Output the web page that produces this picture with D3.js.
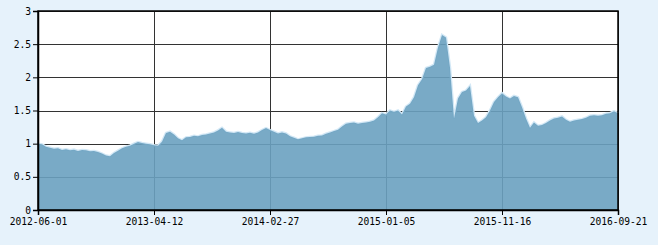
<!DOCTYPE html>
<html>
<head>
<meta charset="utf-8">
<script src="https://cdn.jsdelivr.net/npm/d3@7"></script>
<style>
  body { margin: 0; background: #e6f2fb; }
  .tick text { font-family: "DejaVu Sans Mono", monospace; font-size: 9.6px; fill: #000; }
</style>
</head>
<body>
<div id="chart"></div>
<script>
// tick labels and values (evenly spaced trading days)
var yTicks = [0, 0.5, 1, 1.5, 2, 2.5, 3];
var dateLabels = ["2012-06-01", "2013-04-12", "2014-02-27", "2015-01-05", "2015-11-16", "2016-09-21"];
var values = [
  1.00, 0.99, 0.955, 0.94, 0.925, 0.93, 0.905, 0.915, 0.90, 0.91,
  0.89, 0.905, 0.90, 0.885, 0.89, 0.875, 0.85, 0.82, 0.81, 0.86,
  0.895, 0.93, 0.955, 0.97, 1.00, 1.025, 1.01, 1.00, 0.99, 0.975,
  0.97, 1.03, 1.16, 1.18, 1.14, 1.08, 1.05, 1.095, 1.10, 1.12,
  1.11, 1.13, 1.14, 1.155, 1.17, 1.20, 1.24, 1.18, 1.17, 1.16,
  1.175, 1.16, 1.155, 1.165, 1.15, 1.17, 1.205, 1.235, 1.205, 1.18,
  1.155, 1.17, 1.155, 1.11, 1.09, 1.065, 1.08, 1.095, 1.10, 1.105,
  1.12, 1.125, 1.15, 1.17, 1.19, 1.21, 1.26, 1.30, 1.31, 1.32,
  1.30, 1.31, 1.32, 1.33, 1.35, 1.40, 1.46, 1.44, 1.50, 1.48,
  1.50, 1.44, 1.56, 1.60, 1.70, 1.88, 1.97, 2.14, 2.16, 2.19,
  2.45, 2.64, 2.60, 2.15, 1.38, 1.68, 1.78, 1.80, 1.87, 1.42,
  1.31, 1.35, 1.40, 1.50, 1.63, 1.70, 1.76, 1.71, 1.68, 1.72,
  1.70, 1.55, 1.38, 1.24, 1.32, 1.27, 1.28, 1.31, 1.35, 1.38,
  1.39, 1.41, 1.36, 1.33, 1.35, 1.36, 1.37, 1.39, 1.42, 1.43,
  1.42, 1.43, 1.45, 1.46, 1.49, 1.46
];

var margin = {top: 11, right: 40, bottom: 35, left: 38},
    width = 658 - margin.left - margin.right,
    height = 245 - margin.top - margin.bottom;

var svg = d3.select("#chart")
  .append("svg")
    .attr("width", width + margin.left + margin.right)
    .attr("height", height + margin.top + margin.bottom)
  .append("g")
    .attr("transform", "translate(" + margin.left + "," + margin.top + ")");

var x = d3.scaleLinear()
  .domain([0, values.length - 1])
  .range([0, width]);

var xLab = d3.scalePoint()
  .domain(dateLabels)
  .range([0, width]);

var y = d3.scaleLinear()
  .domain([0, 3])
  .range([height, 0]);

// white plot background
svg.append("rect")
  .attr("width", width)
  .attr("height", height)
  .style("fill", "#fff");

// grid
svg.append("g")
  .selectAll("line")
  .data(yTicks)
  .enter()
  .append("line")
    .attr("x1", 0)
    .attr("x2", width)
    .attr("y1", function(d) { return Math.round(y(d)) + 0.5; })
    .attr("y2", function(d) { return Math.round(y(d)) + 0.5; })
    .attr("stroke", "#333")
    .style("stroke-width", 1);

svg.append("g")
  .selectAll("line")
  .data(dateLabels)
  .enter()
  .append("line")
    .attr("x1", function(d) { return Math.round(xLab(d)) + 0.5; })
    .attr("x2", function(d) { return Math.round(xLab(d)) + 0.5; })
    .attr("y1", 0)
    .attr("y2", height)
    .attr("stroke", "#333")
    .style("stroke-width", 1);

// light edge along the top of the area
svg.append("path")
  .datum(values)
  .attr("fill", "none")
  .attr("stroke", "#d3e8f6")
  .style("stroke-width", 2.5)
  .attr("d", d3.line()
    .x(function(d, i) { return x(i); })
    .y(function(d) { return y(d); }));

// area
svg.append("path")
  .datum(values)
  .attr("fill", "#6aa1c0")
  .attr("fill-opacity", 0.9)
  .attr("d", d3.area()
    .x(function(d, i) { return x(i); })
    .y0(height)
    .y1(function(d) { return y(d); }));

// frame
svg.append("rect")
  .attr("width", width)
  .attr("height", height)
  .style("fill", "none")
  .attr("stroke", "#000")
  .style("stroke-width", 1.5);

// axes
svg.append("g")
  .attr("transform", "translate(0," + height + ")")
  .call(d3.axisBottom(xLab).tickSize(5).tickPadding(3))
  .call(function(g) { g.select(".domain").attr("stroke", "#000").style("stroke-width", 1.5); });

svg.append("g")
  .call(d3.axisLeft(y).tickValues(yTicks).tickSize(5).tickPadding(2)
    .tickFormat(function(d) { return d3.format("")(d); }))
  .call(function(g) { g.select(".domain").attr("stroke", "#000").style("stroke-width", 1.5); });
</script>
</body>
</html>
